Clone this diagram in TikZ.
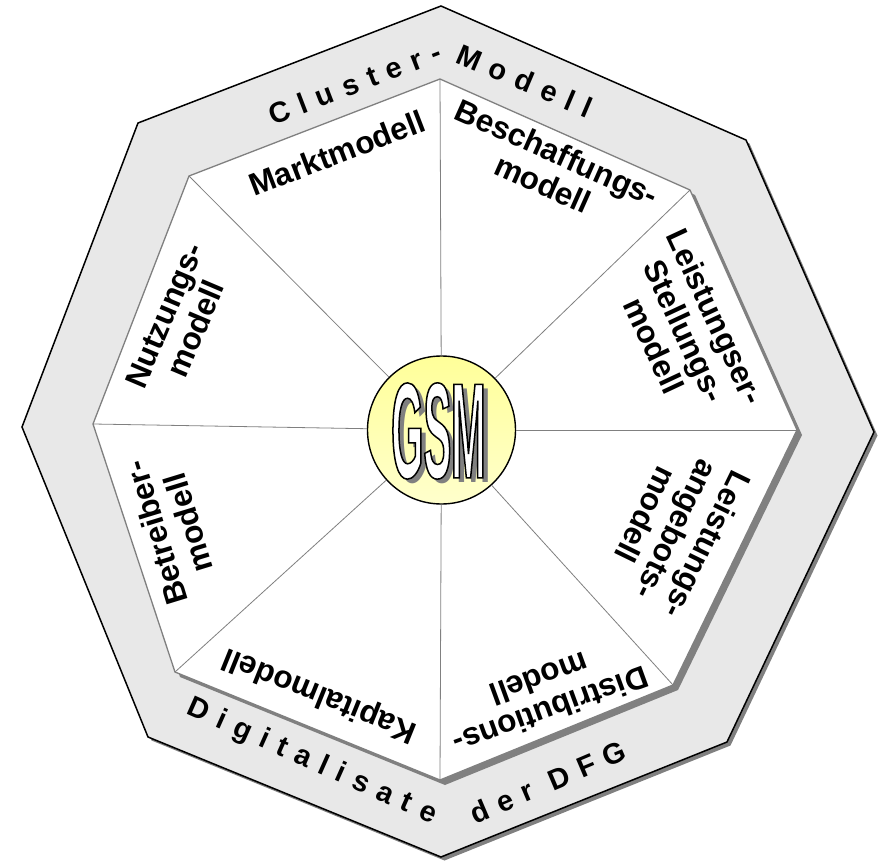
\documentclass[tikz,border=0pt]{standalone}
\usepackage{fontspec}
\setmainfont{Liberation Sans}
\newfontfamily\ringfont[LetterSpace=36]{Liberation Sans}
\newfontfamily\gsmfont[FakeStretch=0.305]{Liberation Sans}
\usetikzlibrary{positioning}
\definecolor{ringgray}{HTML}{E8E8E8}
\definecolor{shadegray}{HTML}{808080}
\tikzset{
  model/.style={align=center, inner sep=0pt, font=\bfseries\fontsize{31.5}{34}\selectfont},
  ringtext/.style={inner sep=0pt, font=\ringfont\bfseries\fontsize{29}{30}\selectfont},
  gsmtext/.style={inner sep=0pt, font=\gsmfont\bfseries\fontsize{136}{136}\selectfont},
  spoke/.style={draw=shadegray, line width=0.8pt},
  dropshadow/.style={fill=shadegray, transform canvas={shift={(#1,#1)}}}
}

\begin{document}
\begin{tikzpicture}[x=1pt, y=-1pt]
  \useasboundingbox (0,0) rectangle (879,861);
  % outer corners
  \coordinate (o1) at (441,6);
  \coordinate (o2) at (746,140);
  \coordinate (o3) at (874,432);
  \coordinate (o4) at (727,742);
  \coordinate (o5) at (441,857);
  \coordinate (o6) at (148,737);
  \coordinate (o7) at (22,427);
  \coordinate (o8) at (138,123);
  % inner corners
  \coordinate (i1) at (440,79);
  \coordinate (i2) at (690,190);
  \coordinate (i3) at (797,430);
  \coordinate (i4) at (673,685);
  \coordinate (i5) at (440,780);
  \coordinate (i6) at (175,672);
  \coordinate (i7) at (93,424);
  \coordinate (i8) at (189,176);

  \path[dropshadow=3.5] (o1) -- (o2) -- (o3) -- (o4) -- (o5) -- (o6) -- (o7) -- (o8) -- cycle;
  \draw[black, line width=1.5pt, fill=ringgray] (o1) -- (o2) -- (o3) -- (o4) -- (o5) -- (o6) -- (o7) -- (o8) -- cycle;
  \path[dropshadow=5] (i1) -- (i2) -- (i3) -- (i4) -- (i5) -- (i6) -- (i7) -- (i8) -- cycle;
  \draw[shadegray, line width=1.3pt, fill=white] (i1) -- (i2) -- (i3) -- (i4) -- (i5) -- (i6) -- (i7) -- (i8) -- cycle;

  \node[circle, draw=black, line width=1.4pt, minimum size=148pt, inner sep=0pt,
        top color=yellow!40, bottom color=yellow!20] (hub) at (441.5,430) {};
  \foreach \c in {i1,i2,i3,i4,i5,i6,i7,i8}
    \draw[spoke] (hub) -- (\c);

  \node[gsmtext, text=shadegray] (gsmshadow) at (443.5,436) {GSM};
  \node[gsmtext, text=white] (gsm) at (438.5,431) {\special{pdf:code 2 Tr 1.5 w 0 G}GSM\special{pdf:code 0 Tr}};

  \node[ringtext, rotate=21] (cluster) at (355,83) {Cluster-};
  \node[ringtext, rotate=-23] (cmodel) at (525,81) {Modell};
  \node[ringtext, rotate=-24] (digital) at (312,762) {Digitalisate};
  \node[ringtext, rotate=23] (dfg) at (548,782) {der DFG};

  \node[model, rotate=21] (markt) at (337,153) {Marktmodell};
  \node[model, rotate=-24] (beschaffung) at (550,168) {Beschaffungs-\\modell};
  \node[model, rotate=-65] (erstellung) at (685,331) {Leistungser-\\Stellungs-\\modell};
  \node[model, rotate=244] (angebot) at (677,530) {Leistungs-\\angebots-\\modell};
  \node[model, rotate=200] (distribution) at (545,695) {Distributions-\\modell};
  \node[model, rotate=158] (kapital) at (320,694) {Kapitalmodell};
  \node[model, rotate=107] (betreiber) at (172,528) {Betreiber-\\modell};
  \node[model, rotate=67] (nutzung) at (180,322) {Nutzungs-\\modell};
\end{tikzpicture}
\end{document}
